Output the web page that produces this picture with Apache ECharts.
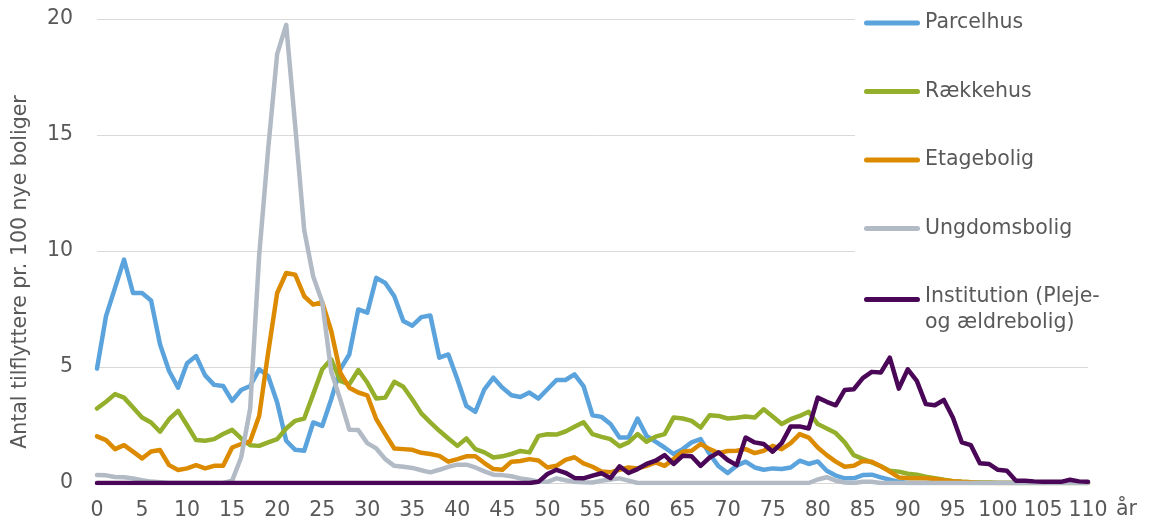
<!DOCTYPE html>
<html>
<head>
<meta charset="utf-8">
<script src="https://cdn.jsdelivr.net/npm/echarts@6/dist/echarts.min.js"></script>
<style>
html,body{margin:0;padding:0;background:#fff;}
#chart{width:1149px;height:520px;}
</style>
</head>
<body>
<div id="chart"></div>
<script>
// Ages 0..110
const ages = [];
for (let a = 0; a <= 110; a++) ages.push(a);

const xTickLabels = ['0','5','10','15','20','25','30','35','40','45','50','55','60','65','70','75','80','85','90','95','100','105','110'];
const yTickLabels = ['0','5','10','15','20'];

const seriesNames = ['Parcelhus', 'Rækkehus', 'Etagebolig', 'Ungdomsbolig', 'Institution (Pleje-\nog ældrebolig)'];

const parcelhus = [
 4.93,7.19,8.41,9.63,8.19,8.19,7.87,5.97,4.83,4.11,
 5.16,5.47,4.64,4.23,4.18,3.54,4.01,4.18,4.9,4.61,
 3.47,1.82,1.43,1.39,2.61,2.46,3.61,4.9,5.54,7.48,
 7.34,8.84,8.62,8.05,6.98,6.78,7.15,7.22,5.4,5.54,
 4.47,3.32,3.07,4.04,4.54,4.11,3.78,3.71,3.9,3.64,
 4.04,4.44,4.44,4.68,4.18,2.92,2.85,2.54,1.96,1.96,
 2.78,2.03,1.78,1.53,1.25,1.46,1.75,1.89,1.25,0.72,
 0.43,0.74,0.92,0.67,0.57,0.63,0.6,0.67,0.96,0.82,
 0.93,0.53,0.32,0.2,0.2,0.34,0.36,0.24,0.14,0.05,
 0,0,0,0,0,0,0,0,0,0,
 0,0,0,0,0,0,0,0,0,0,
 0
];

const raekkehus = [
 3.21,3.5,3.83,3.68,3.25,2.82,2.61,2.21,2.75,3.11,
 2.49,1.85,1.82,1.89,2.11,2.29,1.92,1.63,1.6,1.75,
 1.89,2.35,2.68,2.78,3.83,4.9,5.33,4.4,4.25,4.87,
 4.33,3.64,3.68,4.36,4.15,3.6,3.0,2.61,2.25,1.92,
 1.6,1.92,1.46,1.32,1.1,1.15,1.25,1.38,1.32,2.03,
 2.1,2.09,2.22,2.42,2.62,2.11,1.99,1.89,1.58,1.75,
 2.11,1.78,2.0,2.11,2.82,2.78,2.68,2.39,2.92,2.89,
 2.78,2.81,2.87,2.82,3.18,2.87,2.54,2.75,2.89,3.07,
 2.54,2.35,2.15,1.75,1.2,1.04,0.89,0.72,0.53,0.49,
 0.4,0.36,0.27,0.21,0.14,0.08,0.05,0.03,0.02,0.02,
 0,0,0,0,0,0,0,0,0,0,
 0
];

const etagebolig = [
 2.01,1.85,1.46,1.63,1.35,1.06,1.36,1.42,0.77,0.56,
 0.63,0.77,0.63,0.74,0.74,1.53,1.68,1.8,2.89,5.62,
 8.19,9.05,8.98,8.05,7.69,7.79,6.55,4.76,4.11,3.9,
 3.78,2.75,2.11,1.49,1.46,1.43,1.3,1.25,1.17,0.92,
 1.03,1.15,1.15,0.86,0.6,0.57,0.92,0.95,1.03,0.97,
 0.67,0.74,1.0,1.11,0.85,0.7,0.5,0.46,0.57,0.67,
 0.63,0.74,0.89,0.74,1.03,1.35,1.39,1.68,1.46,1.29,
 1.38,1.39,1.46,1.29,1.39,1.6,1.46,1.72,2.11,1.96,
 1.53,1.2,0.92,0.7,0.74,0.95,0.92,0.72,0.49,0.24,
 0.21,0.21,0.2,0.17,0.12,0.08,0.05,0.03,0,0,
 0,0,0,0,0,0,0,0,0,0,
 0
];

const ungdomsbolig = [
 0.34,0.33,0.26,0.25,0.2,0.12,0.06,0.03,0,0,
 0,0,0,0,0,0.1,1.1,3.2,9.8,14.4,
 18.5,19.75,15.4,10.9,8.9,7.8,4.8,3.6,2.3,2.28,
 1.72,1.49,1.03,0.74,0.7,0.65,0.55,0.46,0.57,0.7,
 0.79,0.79,0.67,0.5,0.36,0.34,0.29,0.2,0.14,0.07,
 0.05,0.2,0.12,0.05,0.03,0.02,0.1,0.15,0.2,0.1,
 0,0,0,0,0,0,0,0,0,0,
 0,0,0,0,0,0,0,0,0,0,
 0.15,0.25,0.1,0.02,0,0.05,0.05,0,0,0,
 0,0,0,0,0,0,0,0,0,0,
 0,0,0,0,0,0,0,0,0,0,
 0
];

const institution = [
 0,0,0,0,0,0,0,0,0,0,
 0,0,0,0,0,0,0,0,0,0,
 0,0,0,0,0,0,0,0,0,0,
 0,0,0,0,0,0,0,0,0,0,
 0,0,0,0,0,0,0,0,0,0.05,
 0.39,0.57,0.44,0.22,0.2,0.32,0.42,0.21,0.72,0.43,
 0.6,0.82,0.96,1.2,0.82,1.17,1.15,0.74,1.1,1.32,
 0.99,0.77,1.96,1.75,1.68,1.35,1.72,2.44,2.44,2.35,
 3.68,3.5,3.35,4.01,4.04,4.52,4.79,4.76,5.4,4.07,
 4.9,4.4,3.4,3.35,3.58,2.82,1.75,1.63,0.85,0.82,
 0.57,0.53,0.1,0.1,0.07,0.05,0.05,0.05,0.14,0.07,
 0.05
];

const colors = ['#5ba3dc', '#94af2b', '#dc8b00', '#b2bbc5', '#4a0657'];
const allValues = [parcelhus, raekkehus, etagebolig, ungdomsbolig, institution];

const font = '"DejaVu Sans", Verdana, sans-serif';
const txt = '#595959';

const iconStd = 'path://M2.5,0H53.5A2.5,2.5 0 0 1 53.5,5H2.5A2.5,2.5 0 0 1 2.5,0Z';
const iconTop = 'path://M2.5,0H53.5A2.5,2.5 0 0 1 53.5,5H2.5A2.5,2.5 0 0 1 2.5,0Z M0,25.99H0.01V26H0Z';

const chart = echarts.init(document.getElementById('chart'), null, {renderer: 'canvas'});

const series = seriesNames.map((name, i) => ({
  name: name,
  type: 'line',
  data: ages.map((a, k) => [a, allValues[i][k]]),
  showSymbol: false,
  symbol: 'none',
  smooth: false,
  lineStyle: {color: colors[i], width: 4.5, cap: 'round', join: 'round'},
  itemStyle: {color: colors[i]},
  animation: false,
  z: 2 + i
}));

chart.setOption({
  animation: false,
  backgroundColor: '#fff',
  grid: {left: 97, right: 61, top: 19, bottom: 37, containLabel: false, outerBoundsMode: 'none'},
  legend: {
    orient: 'vertical',
    left: 855,
    top: 0,
    padding: [10, 120, 12, 9],
    backgroundColor: '#fff',
    itemWidth: 56,
    itemHeight: 26,
    itemGap: 42.5,
    symbolKeepAspect: true,
    selectedMode: false,
    z: 10,
    textStyle: {fontFamily: font, fontSize: 20.5, color: txt, lineHeight: 26},
    data: seriesNames.map((n, i) => ({name: n, icon: i === 4 ? iconTop : iconStd, itemStyle: {color: colors[i]}}))
  },
  xAxis: {
    type: 'value',
    min: 0,
    max: 110,
    interval: 5,
    name: 'år',
    nameLocation: 'end',
    nameGap: 28,
    nameTextStyle: {fontFamily: font, fontSize: 20.5, color: txt, verticalAlign: 'top', padding: [16, 0, 0, 0]},
    axisLine: {show: true, lineStyle: {color: '#d9d9d9', width: 1}},
    axisTick: {show: false},
    splitLine: {show: false},
    axisLabel: {
      fontFamily: font, fontSize: 20.5, color: txt, margin: 17,
      formatter: v => xTickLabels[Math.round(v / 5)]
    }
  },
  yAxis: {
    type: 'value',
    min: 0,
    max: 20,
    interval: 5,
    name: 'Antal tilflyttere pr. 100 nye boliger',
    nameLocation: 'middle',
    nameGap: 66,
    nameTextStyle: {fontFamily: font, fontSize: 20.5, color: txt, padding: [0, 42, 0, 0]},
    axisLine: {show: false},
    axisTick: {show: false},
    splitLine: {show: true, lineStyle: {color: '#d9d9d9', width: 1}},
    axisLabel: {
      fontFamily: font, fontSize: 20.5, color: txt, margin: 24,
      formatter: v => yTickLabels[Math.round(v / 5)]
    }
  },
  series: series
});
</script>
</body>
</html>
